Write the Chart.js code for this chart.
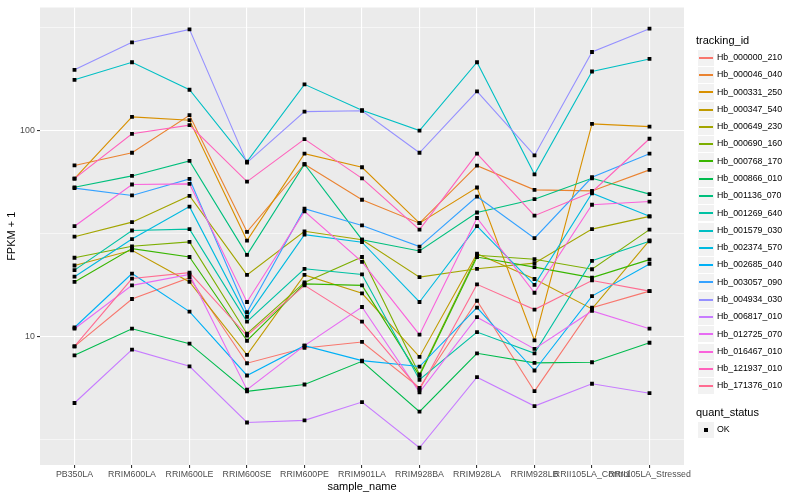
<!DOCTYPE html>
<html><head><meta charset="utf-8">
<script src="https://cdn.jsdelivr.net/npm/chart.js@4"></script>
<style>
html,body{margin:0;padding:0;background:#fff;}
#wrap{position:relative;width:800px;height:500px;overflow:hidden;}
#c{position:absolute;left:0;top:0;}
.lg{position:absolute;font-family:"Liberation Sans",Arial,Helvetica,sans-serif;color:#000;white-space:nowrap;}
.key{position:absolute;background:#F2F2F2;box-sizing:border-box;border:1px solid #fff;}
.keyline{position:absolute;}
</style></head><body>
<div id="wrap"><canvas id="c" width="800" height="500"></canvas></div>
<script>
const sampleNames = ['PB350LA','RRIM600LA','RRIM600LE','RRIM600SE','RRIM600PE','RRIM901LA','RRIM928BA','RRIM928LA','RRIM928LB','RRII105LA_Control','RRII105LA_Stressed'];
const trackingIds = ['Hb_000000_210','Hb_000046_040','Hb_000331_250','Hb_000347_540','Hb_000649_230','Hb_000690_160','Hb_000768_170','Hb_000866_010','Hb_001136_070','Hb_001269_640','Hb_001579_030','Hb_002374_570','Hb_002685_040','Hb_003057_090','Hb_004934_030','Hb_006817_010','Hb_012725_070','Hb_016467_010','Hb_121937_010','Hb_171376_010'];
const quantStatus = ['OK'];
const yTickValues = [3.1623, 10, 31.623, 100, 316.23];
const yTickLabels = ['', '10', '', '100', ''];

const hb_000000_210 = [8.95, 15.2, 19.3, 7.41, 8.79, 9.40, 5.63, 14.9, 5.42, 13.8, 16.6];
const hb_000046_040 = [67.7, 78.0, 118.7, 32.2, 68.6, 46.1, 35.5, 67.5, 51.5, 50.9, 64.4];
const hb_000331_250 = [58.4, 116.5, 112.3, 29.2, 77.2, 66.3, 35.5, 52.9, 9.56, 107.7, 104.5];
const hb_000347_540 = [22.1, 26.2, 18.4, 8.13, 19.9, 16.2, 7.95, 25.2, 19.0, 13.6, 29.3];
const hb_000649_230 = [30.5, 35.9, 48.2, 19.9, 32.4, 29.5, 19.4, 21.3, 22.7, 33.2, 38.3];
const hb_000690_160 = [24.1, 27.4, 28.8, 10.3, 18.3, 24.3, 6.53, 24.8, 23.7, 21.2, 33.0];
const hb_000768_170 = [18.4, 26.7, 24.3, 9.53, 18.0, 17.7, 6.44, 24.3, 21.7, 19.3, 23.6];
const hb_000866_010 = [8.09, 10.9, 9.22, 5.41, 5.84, 7.57, 4.31, 8.28, 7.44, 7.49, 9.32];
const hb_001136_070 = [53.0, 60.2, 71.2, 24.9, 68.6, 29.5, 26.0, 40.0, 46.4, 58.6, 49.1];
const hb_001269_640 = [21.0, 32.7, 33.2, 11.8, 21.3, 20.0, 6.16, 10.5, 8.28, 23.3, 29.0];
const hb_001579_030 = [176.4, 214.7, 157.8, 70.6, 167.6, 125.5, 100, 214.7, 61.3, 193.6, 222.7];
const hb_002374_570 = [19.5, 29.7, 42.7, 12.45, 31.2, 28.7, 14.7, 34.3, 17.8, 49.6, 38.3];
const hb_002685_040 = [11.05, 20.2, 13.2, 6.46, 9.02, 7.63, 7.14, 13.8, 6.83, 15.7, 22.5];
const hb_003057_090 = [52.5, 48.4, 58.2, 13.1, 41.7, 34.6, 27.3, 47.8, 30.0, 59.3, 77.2];
const hb_004934_030 = [197.1, 268.2, 309.9, 69.8, 123.5, 124.8, 78.0, 155.0, 75.7, 240.7, 312.3];
const hb_006817_010 = [4.75, 8.62, 7.16, 3.82, 3.91, 4.80, 2.88, 6.34, 4.59, 5.89, 5.30];
const hb_012725_070 = [10.9, 17.7, 20.0, 5.51, 9.02, 13.9, 5.35, 12.4, 8.70, 13.3, 10.9];
const hb_016467_010 = [34.3, 54.7, 55.1, 14.7, 40.5, 23.0, 10.2, 37.6, 16.3, 43.6, 45.2];
const hb_121937_010 = [58.4, 96.4, 106.2, 56.5, 90.9, 58.6, 33.0, 77.2, 38.6, 50.3, 91.2];
const hb_171376_010 = [8.95, 19.1, 20.4, 10.1, 17.7, 11.8, 5.51, 17.9, 13.5, 18.7, 16.6];

const seriesValues = [hb_000000_210, hb_000046_040, hb_000331_250, hb_000347_540, hb_000649_230, hb_000690_160, hb_000768_170, hb_000866_010, hb_001136_070, hb_001269_640, hb_001579_030, hb_002374_570, hb_002685_040, hb_003057_090, hb_004934_030, hb_006817_010, hb_012725_070, hb_016467_010, hb_121937_010, hb_171376_010];
const palette = ['#F8766D','#EA8331','#D89000','#C09B00','#A3A500','#7CAE00','#39B600','#00BB4E','#00BF7D','#00C1A3','#00BFC4','#00BAE0','#00B0F6','#35A2FF','#9590FF','#C77CFF','#E76BF3','#FA62DB','#FF62BC','#FF6C91'];

const FONT = '"Liberation Sans", Arial, Helvetica, sans-serif';
function isMajorY(v){ const k = yTickValues.indexOf(v); return k >= 0 && yTickLabels[k] !== ''; }

const lineDatasets = seriesValues.map((vals, i) => ({
  label: trackingIds[i],
  data: vals.map((v, j) => ({x: j, y: v})),
  borderColor: palette[i],
  backgroundColor: palette[i],
  borderWidth: 1.1,
  pointRadius: 0,
  pointHoverRadius: 0,
  fill: false,
  tension: 0,
  order: trackingIds.length - i + 1
}));
const pointDataset = {
  label: quantStatus[0],
  data: seriesValues.flatMap(vals => vals.map((v, j) => ({x: j, y: v}))),
  showLine: false,
  pointStyle: 'rect',
  pointRadius: 2.7,
  pointHoverRadius: 2.7,
  pointBackgroundColor: '#000',
  pointBorderColor: '#000',
  pointBorderWidth: 0,
  order: 0
};

const panelBg = {
  id: 'panelBg',
  beforeDraw(chart){
    const {ctx, chartArea: a} = chart;
    ctx.save();
    ctx.fillStyle = '#EBEBEB';
    ctx.fillRect(a.left, a.top, a.right - a.left, a.bottom - a.top);
    ctx.restore();
  }
};

new Chart(document.getElementById('c'), {
  type: 'line',
  data: { datasets: [...lineDatasets, pointDataset] },
  plugins: [panelBg],
  options: {
    responsive: false,
    animation: false,
    events: [],
    layout: { padding: { left: 0, right: 116, top: 5, bottom: 0 } },
    plugins: { legend: { display: false }, tooltip: { enabled: false } },
    scales: {
      x: {
        type: 'linear', min: -0.6, max: 10.6,
        afterBuildTicks: s => { s.ticks = sampleNames.map((_, i) => ({ value: i })); },
        afterFit: s => { s.height = 35; },
        ticks: { autoSkip: false, maxRotation: 0, minRotation: 0, padding: 1.5, color: '#4D4D4D',
                 font: { family: FONT, size: 8.8 }, callback: v => sampleNames[v] ?? '' },
        grid: { color: '#FFFFFF', lineWidth: 1.1, tickColor: '#333333', tickLength: 3, drawTicks: true },
        border: { display: false },
        title: { display: true, text: 'sample_name', color: '#000', font: { family: FONT, size: 11 }, padding: { top: 0, bottom: 6.4 } }
      },
      y: {
        type: 'logarithmic', min: 2.374, max: 396,
        afterBuildTicks: s => { s.ticks = yTickValues.map(v => ({ value: v })); },
        afterFit: s => { s.width = 40; },
        ticks: { autoSkip: false, padding: 2.2, color: '#4D4D4D', font: { family: FONT, size: 8.8 },
                 callback: v => { const k = yTickValues.indexOf(v); return k >= 0 ? yTickLabels[k] : ''; } },
        grid: { color: '#FFFFFF', lineWidth: c => (c.tick && isMajorY(c.tick.value)) ? 1.1 : 0.55,
                tickColor: c => (c.tick && isMajorY(c.tick.value)) ? '#333333' : 'rgba(0,0,0,0)', tickLength: 3, drawTicks: true },
        border: { display: false },
        title: { display: true, text: 'FPKM + 1', color: '#000', font: { family: FONT, size: 11 }, padding: { top: 5.4, bottom: 0 } }
      }
    }
  }
});

// legend (HTML)
const wrap = document.getElementById('wrap');
function addText(txt, x, yc, size){
  const d = document.createElement('div');
  d.className = 'lg'; d.textContent = txt;
  d.style.left = x + 'px'; d.style.top = (yc - size * 0.6) + 'px';
  d.style.fontSize = size + 'px'; d.style.lineHeight = (size * 1.2) + 'px';
  wrap.appendChild(d);
}
const KX = 697;
function addKey(yc){
  const k = document.createElement('div');
  k.className = 'key';
  k.style.left = KX + 'px'; k.style.top = Math.round(yc - 8.5) + 'px';
  k.style.width = '18px'; k.style.height = '18px';
  wrap.appendChild(k);
  return k;
}
addText('tracking_id', 696, 40.7, 11);
trackingIds.forEach((name, i) => {
  const yc = 57.3 + 17.28 * i;
  const k = addKey(yc);
  const ln = document.createElement('div');
  ln.className = 'keyline';
  ln.style.left = '1px'; ln.style.width = '14px';
  ln.style.top = '7px'; ln.style.height = '2px';
  ln.style.background = palette[i];
  k.appendChild(ln);
  addText(name, 717, yc, 8.8);
});
addText('quant_status', 696, 412.7, 11);
quantStatus.forEach((s, i) => {
  const yc = 429.3 + 17.28 * i;
  const k = addKey(yc);
  const sq = document.createElement('div');
  sq.style.position = 'absolute'; sq.style.background = '#000';
  sq.style.width = '4px'; sq.style.height = '4px';
  sq.style.left = '6px'; sq.style.top = '6px';
  k.appendChild(sq);
  addText(s, 717, yc, 8.8);
});
</script>
</body></html>
